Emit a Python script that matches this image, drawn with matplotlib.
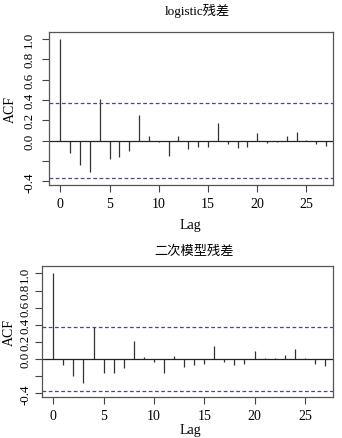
import numpy as np
import matplotlib
matplotlib.use("Agg")
import matplotlib.pyplot as plt

plt.rcParams['font.family'] = ['Liberation Serif', 'Noto Sans CJK SC']

lags = np.arange(0, 28)

# ACF of logistic residuals
acf_logistic = [1.0, -0.12, -0.236, -0.305, 0.41, -0.18, -0.157, -0.098,
                0.25, 0.05, -0.01, -0.148, 0.05, -0.085, -0.062, -0.062,
                0.174, -0.03, -0.072, -0.062, 0.072, -0.023, -0.016, 0.043,
                0.085, 0.003, -0.033, -0.049]

# ACF of quadratic model residuals
acf_quad = [1.0, -0.066, -0.195, -0.28, 0.377, -0.167, -0.163, -0.105,
            0.21, 0.02, -0.04, -0.163, 0.035, -0.09, -0.066, -0.062,
            0.156, -0.035, -0.074, -0.062, 0.093, 0.012, 0.016, 0.047,
            0.12, 0.016, -0.054, -0.082]

conf = 0.37
titles = ["logistic残差", "二次模型残差"]
ytick_vals = [-0.4, -0.2, 0.0, 0.2, 0.4, 0.6, 0.8, 1.0]
ytick_labels = ["-0.4", "", "0.0", "0.2", "0.4", "0.6", "0.8", "1.0"]

W, H = 342, 439
fig = plt.figure(figsize=(W / 100, H / 100), dpi=100)


def px(x, y):
    return x / W, 1 - y / H


# pixel boxes: left, top, right, bottom
boxes = [(49, 33, 333, 186), (42.3, 266.7, 333, 397.7)]
ylims = [(-0.436, 1.069), (-0.44, 1.09)]
xlims = [(-1.15, 27.7), (-1.09, 27.8)]
title_y = [11, 252]
lag_y = [225, 431]
acf_x = [10, 9]
ytl_pad = [5, 3]

for i, vals in enumerate([acf_logistic, acf_quad]):
    l, t, r, b = boxes[i]
    ax = fig.add_axes([l / W, 1 - b / H, (r - l) / W, (b - t) / H])
    ax.vlines(lags, 0, vals, color='#333333', lw=0.9)
    ax.axhline(0, color='#222222', lw=0.9)
    for c in (conf, -conf):
        ax.axhline(c, color='#4a4a80', lw=0.9, ls=(0, (3, 2)))
    ax.set_xlim(*xlims[i])
    ax.set_ylim(*ylims[i])
    ax.set_xticks([0, 5, 10, 15, 20, 25])
    ax.set_yticks(ytick_vals)
    ax.set_yticklabels(ytick_labels, rotation=90, va='center')
    ax.tick_params(length=5, width=0.8, color='#444444', direction='out')
    ax.tick_params(axis='y', pad=ytl_pad[i], labelsize=9.3)
    ax.tick_params(axis='x', pad=4, labelsize=10)
    for s in ax.spines.values():
        s.set_color('#555555')
        s.set_linewidth(0.9)
    fig.text(*px((l + r) / 2 + 6, title_y[i]), titles[i], ha='center',
             va='center', fontsize=9.5)
    fig.text(*px(190, lag_y[i]), "Lag", ha='center', va='center', fontsize=10)
    fig.text(*px(acf_x[i], (t + b) / 2), "ACF", ha='center', va='center',
             rotation=90, fontsize=10)

fig.savefig("out.png", dpi=100)
